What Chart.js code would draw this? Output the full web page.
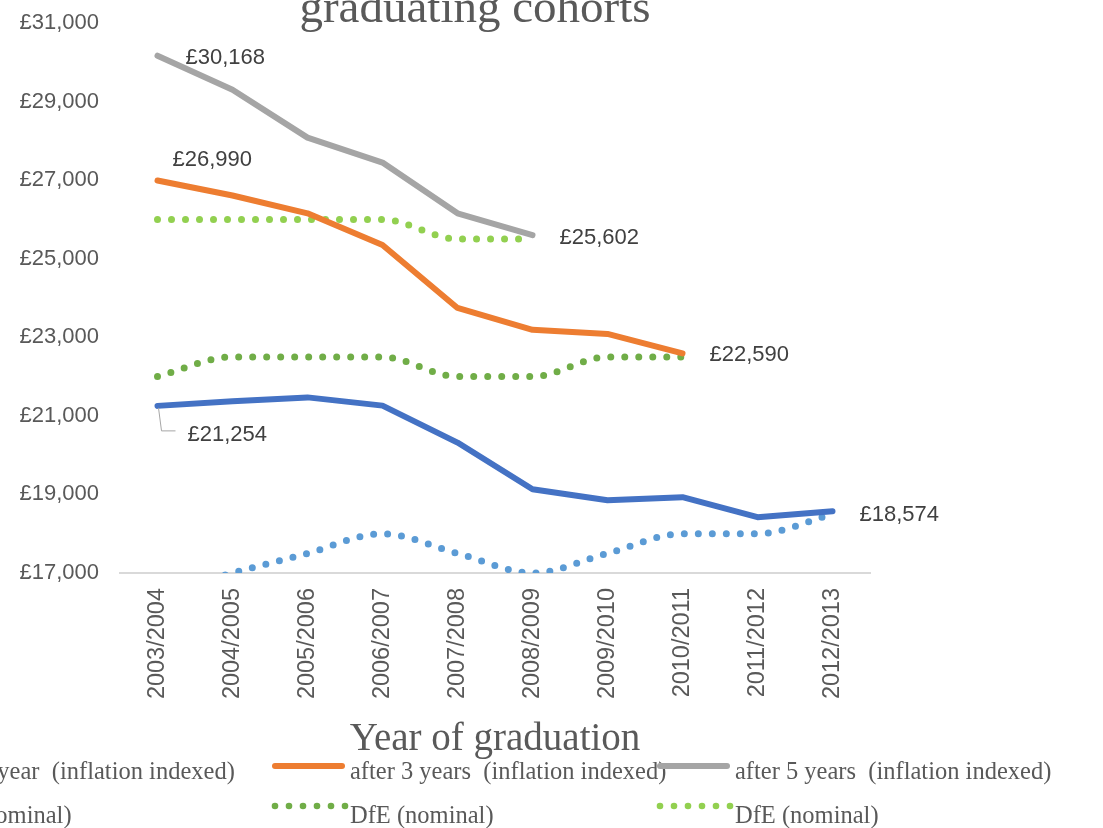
<!DOCTYPE html>
<html><head><meta charset="utf-8">
<script src="https://cdn.jsdelivr.net/npm/chart.js@4.4.1/dist/chart.umd.min.js"></script>
<style>html,body{margin:0;padding:0;background:#fff;overflow:hidden}#c{position:absolute;left:0;top:0}</style>
</head><body>
<canvas id="c" width="1103" height="828"></canvas>
<script>
// ---- data ----
const categories = ['2003/2004','2004/2005','2005/2006','2006/2007','2007/2008','2008/2009','2009/2010','2010/2011','2011/2012','2012/2013'];
const after1Year  = [21254, 21370, 21470, 21260, 20320, 19130, 18850, 18930, 18420, 18574];
const after3Years = [26990, 26610, 26155, 25350, 23746, 23190, 23086, 22590, null, null];
const after5Years = [30168, 29300, 28082, 27448, 26155, 25602, null, null, null, null];
const dfe1Year    = [16500, 17000, 17500, 18000, 17500, 17000, 17500, 18000, 18000, 18500];
const dfe3Years   = [22000, 22500, 22500, 22500, 22000, 22000, 22500, 22500, null, null];
const dfe5Years   = [26000, 26000, 26000, 26000, 25500, 25500, null, null, null, null];
const seriesNames = ['after 1 year  (inflation indexed)','after 3 years  (inflation indexed)','after 5 years  (inflation indexed)','DfE (nominal)','DfE (nominal)','DfE (nominal)'];
const yMin = 17000, yMax = 31000, yStep = 2000;
const titleText = 'graduating cohorts';
const xTitleText = 'Year of graduation';

const gbp = v => '£' + Number(v).toLocaleString('en-GB');
const TXT = '#595959';

function solid(label, data, color) {
  return { label, data, borderColor: color, backgroundColor: color, borderWidth: 6,
    pointRadius: 0, tension: 0, borderJoinStyle: 'round', borderCapStyle: 'round', spanGaps: false };
}
function dotted(label, data, color) {
  return { label, data, borderColor: color, backgroundColor: color, borderWidth: 7,
    borderDash: [0, 14], borderCapStyle: 'round', pointRadius: 0,
    cubicInterpolationMode: 'monotone', spanGaps: false, dotted: true };
}

const datasets = [
  solid(seriesNames[0], after1Year, '#4472C4'),
  solid(seriesNames[1], after3Years, '#ED7D31'),
  solid(seriesNames[2], after5Years, '#A5A5A5'),
  dotted(seriesNames[3], dfe1Year, '#5B9BD5'),
  dotted(seriesNames[4], dfe3Years, '#70AD47'),
  dotted(seriesNames[5], dfe5Years, '#92D050'),
];
datasets.forEach(d => d.order = d.dotted ? 2 : 1);

// data labels: [dataset, point index, dx, dy, leader]
const dataLabels = [
  [2, 0, 28, 2, false],
  [2, 5, 27, 3, false],
  [1, 0, 15, -21, false],
  [1, 7, 27, 2, false],
  [0, 0, 30, 29, true],
  [0, 9, 27, 4, false],
];

const labelPlugin = {
  id: 'labels',
  afterDatasetsDraw(chart) {
    const ctx = chart.ctx;
    ctx.save();
    ctx.font = '22px "Liberation Sans", Arial, sans-serif';
    ctx.fillStyle = '#404040';
    ctx.textAlign = 'left';
    ctx.textBaseline = 'middle';
    dataLabels.forEach(([di, pi, dx, dy, leader]) => {
      const pt = chart.getDatasetMeta(di).data[pi];
      const v = chart.data.datasets[di].data[pi];
      if (leader) {
        ctx.strokeStyle = '#A6A6A6'; ctx.lineWidth = 1;
        ctx.beginPath();
        ctx.moveTo(pt.x + 1, pt.y + 2);
        ctx.lineTo(pt.x + 4, pt.y + dy - 4);
        ctx.lineTo(pt.x + dx - 12, pt.y + dy - 4);
        ctx.stroke();
      }
      ctx.fillText(gbp(v), pt.x + dx, pt.y + dy);
    });
    ctx.restore();
  }
};

// custom 3-column legend and title (partially cropped as in the source)
const legendCols = [-150, 272, 657];
const legendRows = [[766, 779], [806, 823]];
const legendPlugin = {
  id: 'gridLegend',
  afterDraw(chart) {
    const ctx = chart.ctx;
    ctx.save();
    ctx.font = '24.5px "Liberation Serif", "Times New Roman", serif';
    ctx.textBaseline = 'alphabetic';
    ctx.textAlign = 'left';
    chart.data.datasets.forEach((ds, i) => {
      const row = Math.floor(i / 3), col = i % 3;
      const x0 = legendCols[col];
      const [ly, ty] = legendRows[row];
      ctx.strokeStyle = ds.borderColor; ctx.fillStyle = ds.borderColor;
      if (ds.dotted) {
        for (let k = 0; k < 6; k++) {
          ctx.beginPath(); ctx.arc(x0 + 3 + k * 14, ly, 3.3, 0, Math.PI * 2); ctx.fill();
        }
      } else {
        ctx.lineWidth = 6; ctx.lineCap = 'round';
        ctx.beginPath(); ctx.moveTo(x0 + 3, ly); ctx.lineTo(x0 + 70, ly); ctx.stroke();
      }
      ctx.fillStyle = TXT;
      ctx.fillText(ds.label, x0 + 78, ty);
    });
    ctx.font = '47px "Liberation Serif", "Times New Roman", serif';
    ctx.textAlign = 'center';
    ctx.fillText(titleText, 475, 22);
    ctx.restore();
  }
};

new Chart(document.getElementById('c'), {
  type: 'line',
  data: { labels: categories, datasets },
  plugins: [labelPlugin, legendPlugin],
  options: {
    responsive: false,
    animation: false,
    devicePixelRatio: 1,
    layout: { padding: { top: 23, right: 233, left: 0, bottom: 0 } },
    plugins: { legend: { display: false }, title: { display: false }, tooltip: { enabled: false } },
    scales: {
      x: {
        type: 'category', offset: true,
        grid: { display: false, drawTicks: false },
        border: { display: true, color: '#D9D9D9', width: 2 },
        ticks: { autoSkip: false, minRotation: 90, maxRotation: 90, padding: 15, color: TXT,
          font: { family: '"Liberation Sans", Arial, sans-serif', size: 23.5 } },
        title: { display: true, text: xTitleText, color: TXT, padding: { top: 0, bottom: 65 },
          font: { family: '"Liberation Serif", "Times New Roman", serif', size: 39 } },
        afterFit: s => { s.height = 255; }
      },
      y: {
        min: yMin, max: yMax,
        grid: { display: false, drawTicks: true, tickLength: 21 },
        border: { display: false },
        ticks: { stepSize: yStep, padding: 0, color: TXT, callback: v => gbp(v),
          font: { family: '"Liberation Sans", Arial, sans-serif', size: 22 } },
        afterFit: s => { s.width = 120; }
      }
    }
  }
});
</script>
</body></html>
